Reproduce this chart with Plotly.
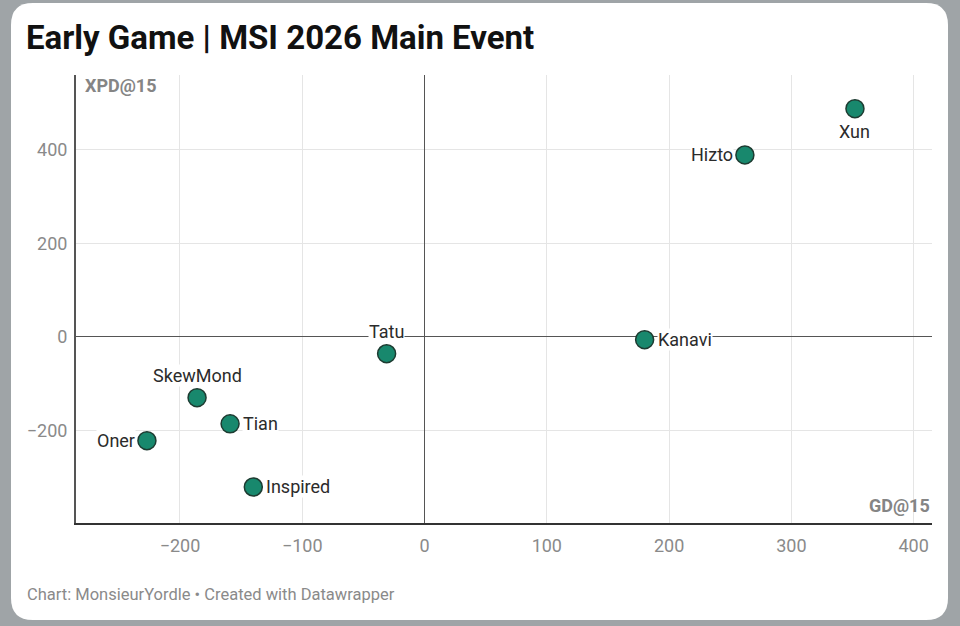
import plotly.graph_objects as go

players = ["Xun", "Hizto", "Kanavi", "Tatu", "SkewMond", "Tian", "Oner", "Inspired"]
gd15 = [352, 262, 180, -31, -186, -159, -227, -140]
xpd15 = [488, 389, -6, -36, -130, -186, -222, -321]
label_pos = ["below", "left", "right", "above", "above", "right", "left", "right"]

x_ticks = [-200, -100, 0, 100, 200, 300, 400]
y_ticks = [-200, 0, 200, 400]

W, H = 960, 626
L, R, T, B = 76, 28, 75, 103
PW, PH = W - L - R, H - T - B

def px(x):
    return (x - L) / PW

def py(y):
    return (H - B - y) / PH

fig = go.Figure()
fig.add_trace(go.Scatter(
    x=gd15, y=xpd15, mode="markers",
    marker=dict(size=18, color="#18886d", line=dict(color="#1d3b31", width=1.5)),
    hoverinfo="text", text=players, showlegend=False, cliponaxis=False,
))

annotations = []
for name, gx, gy, pos in zip(players, gd15, xpd15, label_pos):
    a = dict(x=gx, y=gy, text=name, showarrow=False, bgcolor="white",
             font=dict(family="Roboto", size=18, color="#2b2b2b"), borderpad=0)
    if pos == "right":
        a.update(xanchor="left", yanchor="middle", xshift=12)
    elif pos == "left":
        a.update(xanchor="right", yanchor="middle", xshift=-11)
    elif pos == "above":
        a.update(xanchor="center", yanchor="bottom", yshift=11)
    else:
        a.update(xanchor="center", yanchor="top", yshift=-11)
    annotations.append(a)

annotations += [
    dict(xref="paper", yref="paper", x=px(83), y=py(73), xanchor="left", yanchor="top",
         text="<b>XPD@15</b>", showarrow=False, font=dict(family="Roboto", size=18, color="#858585")),
    dict(xref="paper", yref="paper", x=px(932), y=py(518), xanchor="right", yanchor="bottom",
         text="<b>GD@15</b>", showarrow=False, font=dict(family="Roboto", size=18, color="#858585")),
    dict(xref="paper", yref="paper", x=px(24), y=py(38), xanchor="left", yanchor="middle",
         text="<b>Early Game | MSI 2026 Main Event</b>", showarrow=False,
         font=dict(family="Roboto", size=33, color="#111111")),
    dict(xref="paper", yref="paper", x=px(25), y=py(594), xanchor="left", yanchor="middle",
         text="Chart: MonsieurYordle • Created with Datawrapper", showarrow=False,
         font=dict(family="Roboto", size=16.5, color="#8a8a8a")),
]

# white rounded card
x0, x1, y0, y1, r = 11, 948, 3, 620, 22
def P(x, y):
    return f"{px(x):.5f},{py(y):.5f}"
card = (f"M {P(x0 + r, y0)} L {P(x1 - r, y0)} Q {P(x1, y0)} {P(x1, y0 + r)} "
        f"L {P(x1, y1 - r)} Q {P(x1, y1)} {P(x1 - r, y1)} L {P(x0 + r, y1)} "
        f"Q {P(x0, y1)} {P(x0, y1 - r)} L {P(x0, y0 + r)} Q {P(x0, y0)} {P(x0 + r, y0)} Z")

fig.update_layout(
    width=W, height=H,
    margin=dict(l=L, r=R, t=T, b=B),
    paper_bgcolor="#9fa4a7",
    plot_bgcolor="rgba(0,0,0,0)",
    shapes=[dict(type="path", path=card, xref="paper", yref="paper",
                 fillcolor="white", line=dict(width=0), layer="below")],
    annotations=annotations,
    font=dict(family="Roboto"),
    xaxis=dict(range=[-285, 415], tickvals=x_ticks, ticktext=[str(v).replace("-", "\u2212") for v in x_ticks],
               showgrid=True, gridcolor="#e5e5e5", gridwidth=1,
               zeroline=True, zerolinecolor="#555555", zerolinewidth=1,
               showline=True, linecolor="#333333", linewidth=2,
               ticks="", ticklabelstandoff=5,
               tickfont=dict(family="Roboto", size=18, color="#8a8a8a")),
    yaxis=dict(range=[-398, 560], tickvals=y_ticks, ticktext=[str(v).replace("-", "\u2212") for v in y_ticks],
               showgrid=True, gridcolor="#e5e5e5", gridwidth=1,
               zeroline=True, zerolinecolor="#555555", zerolinewidth=1,
               showline=True, linecolor="#555555", linewidth=2,
               ticks="", ticklabelstandoff=3,
               tickfont=dict(family="Roboto", size=18, color="#8a8a8a")),
)

fig.write_html("out.html", config={"displayModeBar": False},
               post_script="document.body.style.margin='0';document.body.style.background='#9fa4a7';")
